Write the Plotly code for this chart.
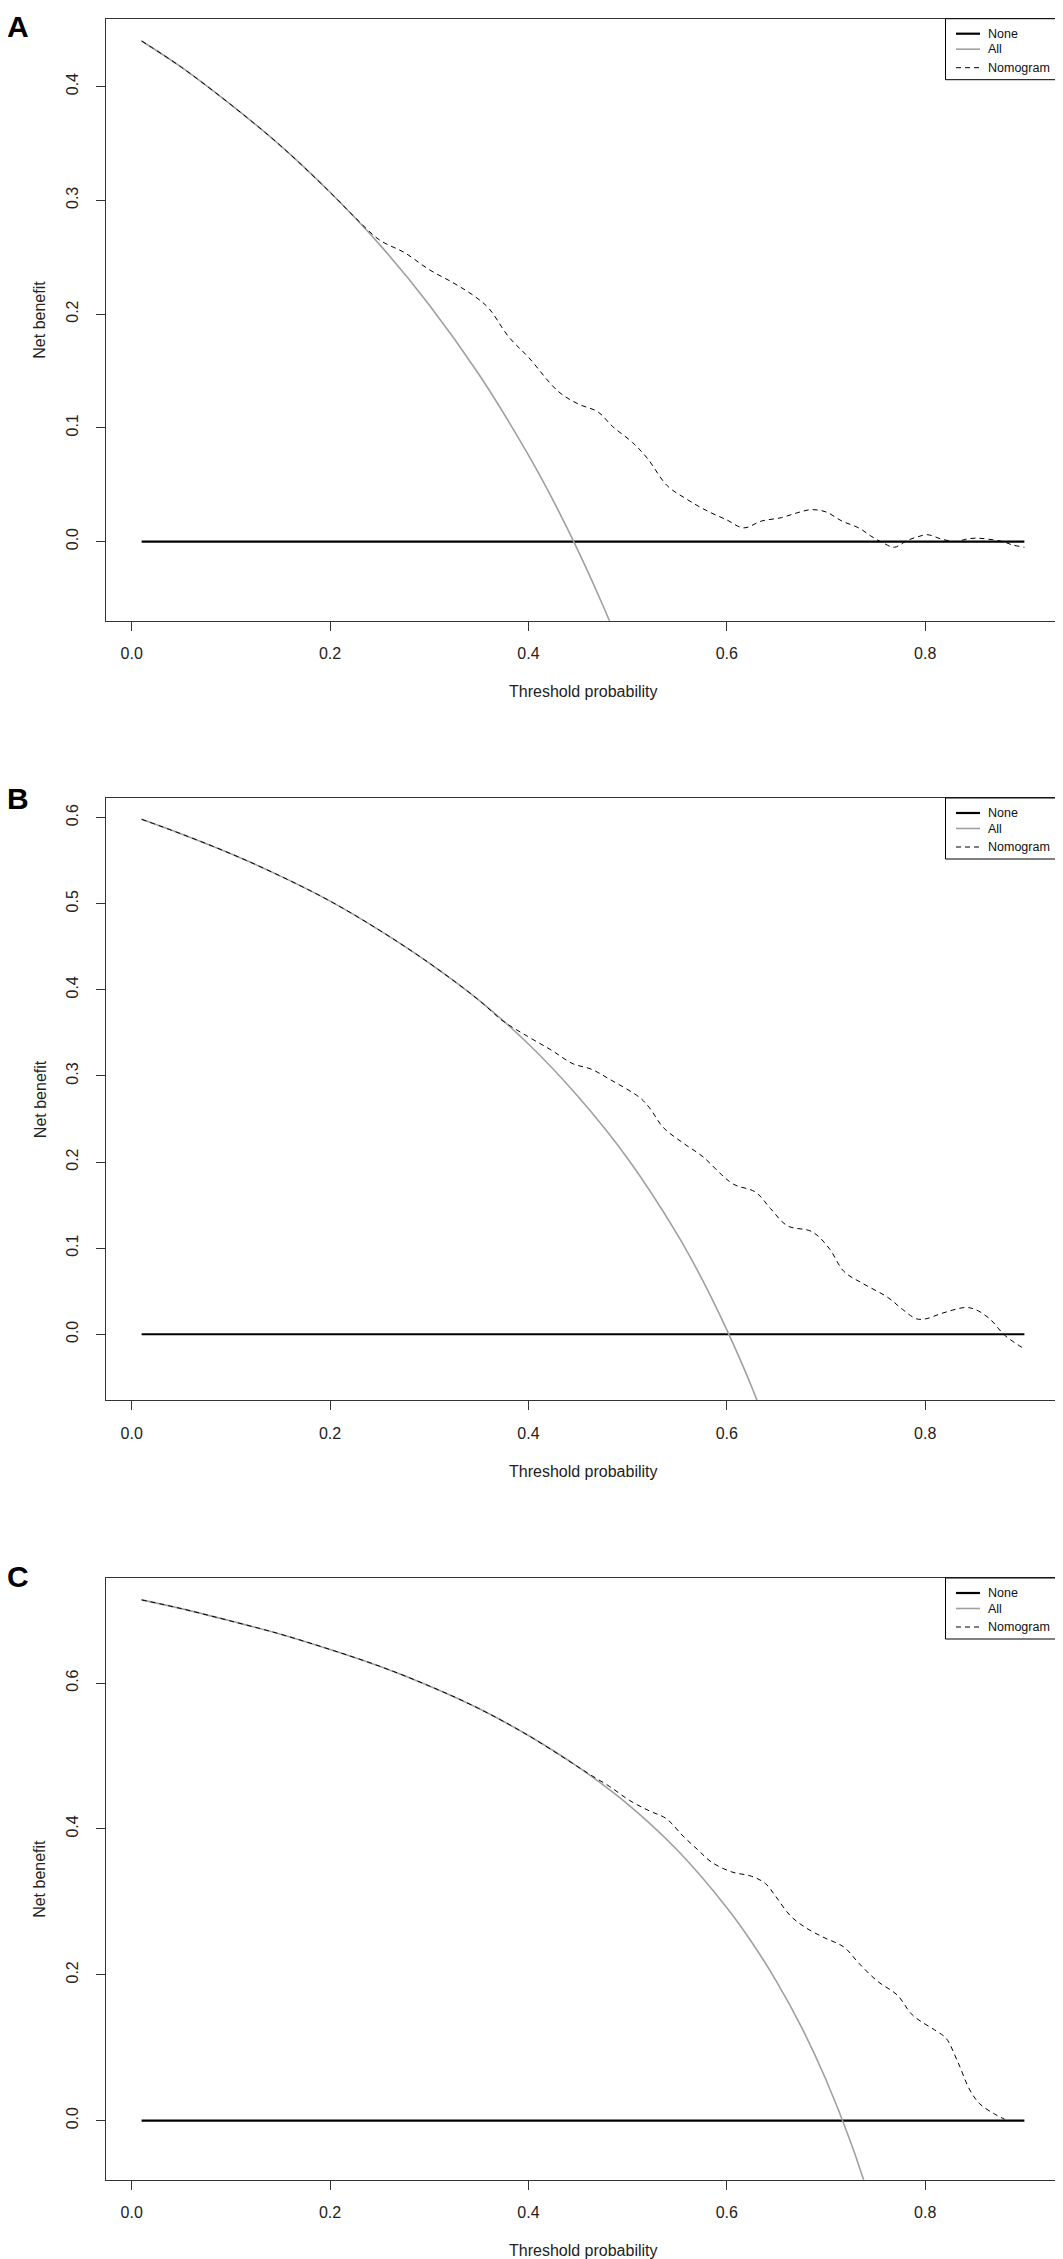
import plotly.graph_objects as go

W, H = 1063, 2259

# ---- panel A ----
a_all_x = [0.01, 0.05, 0.10, 0.15, 0.20, 0.25, 0.30, 0.35, 0.40, 0.425, 0.45, 0.475, 0.50]
a_all_y = [0.440, 0.417, 0.384, 0.348, 0.307, 0.261, 0.208, 0.147, 0.076, 0.036, -0.008, -0.056, -0.109]
a_nom_x = [0.01, 0.05, 0.10, 0.15, 0.20, 0.225, 0.25, 0.275, 0.30, 0.325, 0.345, 0.36, 0.38, 0.40,
           0.43, 0.45, 0.47, 0.485, 0.505, 0.52, 0.54, 0.56, 0.58, 0.60, 0.617, 0.635, 0.655,
           0.67, 0.685, 0.70, 0.716, 0.733, 0.745, 0.757, 0.769, 0.782, 0.792, 0.802, 0.817,
           0.831, 0.841, 0.851, 0.864, 0.878, 0.888, 0.90]
a_nom_y = [0.440, 0.417, 0.384, 0.348, 0.307, 0.285, 0.265, 0.254, 0.239, 0.227, 0.216, 0.205,
           0.180, 0.162, 0.132, 0.121, 0.114, 0.101, 0.087, 0.073, 0.049, 0.037, 0.027, 0.019,
           0.012, 0.018, 0.021, 0.025, 0.028, 0.026, 0.018, 0.012, 0.005, -0.001, -0.005, 0.001,
           0.004, 0.006, 0.002, 0.000, 0.002, 0.003, 0.002, 0.000, -0.003, -0.005]

# ---- panel B ----
b_all_x = [0.01, 0.05, 0.10, 0.15, 0.20, 0.25, 0.30, 0.35, 0.40, 0.45, 0.50, 0.55, 0.575, 0.60, 0.625, 0.65]
b_all_y = [0.598, 0.581, 0.558, 0.532, 0.503, 0.469, 0.431, 0.388, 0.337, 0.276, 0.204, 0.116,
           0.064, 0.005, -0.061, -0.137]
b_nom_x = [0.01, 0.05, 0.10, 0.15, 0.20, 0.25, 0.30, 0.35, 0.374, 0.399, 0.423, 0.445, 0.463,
           0.482, 0.512, 0.522, 0.536, 0.556, 0.576, 0.595, 0.607, 0.629, 0.644, 0.661, 0.686,
           0.703, 0.718, 0.737, 0.762, 0.777, 0.791, 0.801, 0.816, 0.84, 0.85, 0.865, 0.88, 0.90]
b_nom_y = [0.598, 0.581, 0.558, 0.532, 0.503, 0.469, 0.431, 0.388, 0.364, 0.346, 0.330, 0.314,
           0.308, 0.296, 0.275, 0.263, 0.240, 0.222, 0.206, 0.185, 0.174, 0.165, 0.146, 0.126,
           0.119, 0.100, 0.073, 0.059, 0.043, 0.029, 0.018, 0.018, 0.024, 0.031, 0.029, 0.018,
           -0.001, -0.017]

# ---- panel C ----
c_all_x = [0.01, 0.05, 0.10, 0.15, 0.20, 0.25, 0.30, 0.35, 0.40, 0.45, 0.50, 0.55, 0.60, 0.625,
           0.65, 0.675, 0.70, 0.725, 0.75]
c_all_y = [0.714, 0.702, 0.685, 0.667, 0.646, 0.623, 0.596, 0.565, 0.528, 0.485, 0.434, 0.371,
           0.292, 0.245, 0.191, 0.129, 0.056, -0.030, -0.132]
c_nom_x = [0.01, 0.05, 0.10, 0.15, 0.20, 0.25, 0.30, 0.35, 0.40, 0.45, 0.4626, 0.482, 0.502,
           0.5215, 0.539, 0.556, 0.571, 0.585, 0.605, 0.625, 0.639, 0.649, 0.664, 0.679, 0.698,
           0.718, 0.733, 0.752, 0.772, 0.787, 0.811, 0.821, 0.833, 0.845, 0.855, 0.87, 0.88]
c_nom_y = [0.714, 0.702, 0.685, 0.667, 0.646, 0.623, 0.596, 0.565, 0.528, 0.485, 0.474, 0.458,
           0.439, 0.425, 0.414, 0.390, 0.371, 0.354, 0.341, 0.335, 0.325, 0.308, 0.281, 0.265,
           0.251, 0.238, 0.216, 0.191, 0.172, 0.145, 0.123, 0.113, 0.080, 0.042, 0.023, 0.009,
           0.002]

none_x = [0.01, 0.90]
none_y = [0, 0]

legend_labels = ["None", "All", "Nomogram"]
x_ticks = [0, 0.2, 0.4, 0.6, 0.8]

panels = [
    # letter, all x/y, nomogram x/y, y range, y ticks, plot top/bottom (px), letter centre (px)
    ("A", a_all_x, a_all_y, a_nom_x, a_nom_y, [-0.0696, 0.4596], [0, 0.1, 0.2, 0.3, 0.4], 10.7, 612.7, 14),
    ("B", b_all_x, b_all_y, b_nom_x, b_nom_y, [-0.0767, 0.6227], [0, 0.1, 0.2, 0.3, 0.4, 0.5, 0.6], 790.0, 1392.3, 790),
    ("C", c_all_x, c_all_y, c_nom_x, c_nom_y, [-0.081, 0.744], [0, 0.2, 0.4, 0.6], 1570.0, 2171.7, 1568),
]

FONT = "Liberation Sans, Arial, sans-serif"
LEFT, RIGHT = 98.3, 1051.7
x0, x1 = LEFT / W, RIGHT / W

styles = [
    dict(color="black", width=2.2),
    dict(color="#a0a0a0", width=1.6),
    dict(color="black", width=1, dash="5px,4px"),
]


def py(p):
    return 1 - p / H


fig = go.Figure()
annotations = []
shapes = []

for i, (letter, ax, ay, nx, ny, yr, yt, top, bot, lc) in enumerate(panels):
    n = i + 1
    xa = "x" if n == 1 else f"x{n}"
    ya = "y" if n == 1 else f"y{n}"

    fig.add_trace(go.Scatter(x=none_x, y=none_y, mode="lines", name="None",
                             line=styles[0], xaxis=xa, yaxis=ya))
    fig.add_trace(go.Scatter(x=ax, y=ay, mode="lines", name="All",
                             line=dict(styles[1], shape="spline"), xaxis=xa, yaxis=ya))
    fig.add_trace(go.Scatter(x=nx, y=ny, mode="lines", name="Nomogram",
                             line=dict(styles[2], shape="spline"), xaxis=xa, yaxis=ya))

    axis_common = dict(showline=True, mirror=True, linecolor="#333", linewidth=1.3,
                       ticks="outside", ticklen=9, tickwidth=1.2, tickcolor="#333",
                       showgrid=False, zeroline=False,
                       tickfont=dict(family=FONT, size=16, color="#222"))
    sfx = "" if n == 1 else str(n)
    fig.layout["xaxis" + sfx] = dict(
        domain=[x0, x1], anchor=ya, range=[-0.0256, 0.9356],
        tickvals=x_ticks, tickformat=".1f", ticklabelstandoff=9, **axis_common)
    fig.layout["yaxis" + sfx] = dict(
        domain=[py(bot), py(top)], anchor=xa, range=yr, tickvals=yt, tickformat=".1f",
        tickangle=-90, ticklabelstandoff=12, **axis_common)

    # legend box in the top-right corner, drawn like R's legend()
    shapes.append(dict(type="rect", xref="paper", yref="paper",
                       x0=937.5 / W, x1=RIGHT / W, y0=py(top + 61), y1=py(top),
                       line=dict(color="black", width=1), fillcolor="white", layer="above"))
    for k, (lab, st) in enumerate(zip(legend_labels, styles)):
        ry = top + [15, 30.5, 49][k]
        shapes.append(dict(type="line", xref="paper", yref="paper",
                           x0=948 / W, x1=972 / W, y0=py(ry), y1=py(ry),
                           line=st, layer="above"))
        annotations.append(dict(text=lab, xref="paper", yref="paper", x=978 / W, y=py(ry),
                                xanchor="left", yanchor="middle", showarrow=False,
                                font=dict(family=FONT, size=12.5, color="#111")))

    annotations.append(dict(text="Threshold probability", xref="paper", yref="paper",
                            x=(x0 + x1) / 2, y=py(bot + 71), showarrow=False,
                            font=dict(family=FONT, size=16, color="#222"),
                            xanchor="center", yanchor="middle"))
    annotations.append(dict(text="Net benefit", xref="paper", yref="paper",
                            x=32 / W, y=py((top + bot) / 2), showarrow=False,
                            textangle=-90, font=dict(family=FONT, size=16, color="#222"),
                            xanchor="center", yanchor="middle"))
    if n == 1:
        annotations.append(dict(text=f"<b>{letter}</b>", xref="paper", yref="paper",
                                x=0, y=1, xshift=-3, showarrow=False,
                                font=dict(family=FONT, size=30, color="black"),
                                xanchor="left", yanchor="top"))
    else:
        annotations.append(dict(text=f"<b>{letter}</b>", xref="paper", yref="paper",
                                x=0, y=py(lc), xshift=-3, showarrow=False,
                                font=dict(family=FONT, size=30, color="black"),
                                xanchor="left", yanchor="middle"))

fig.update_layout(width=W, height=H, margin=dict(l=0, r=0, t=0, b=0),
                  plot_bgcolor="white", paper_bgcolor="white", showlegend=False,
                  annotations=annotations, shapes=shapes)

fig.write_html("out.html")
